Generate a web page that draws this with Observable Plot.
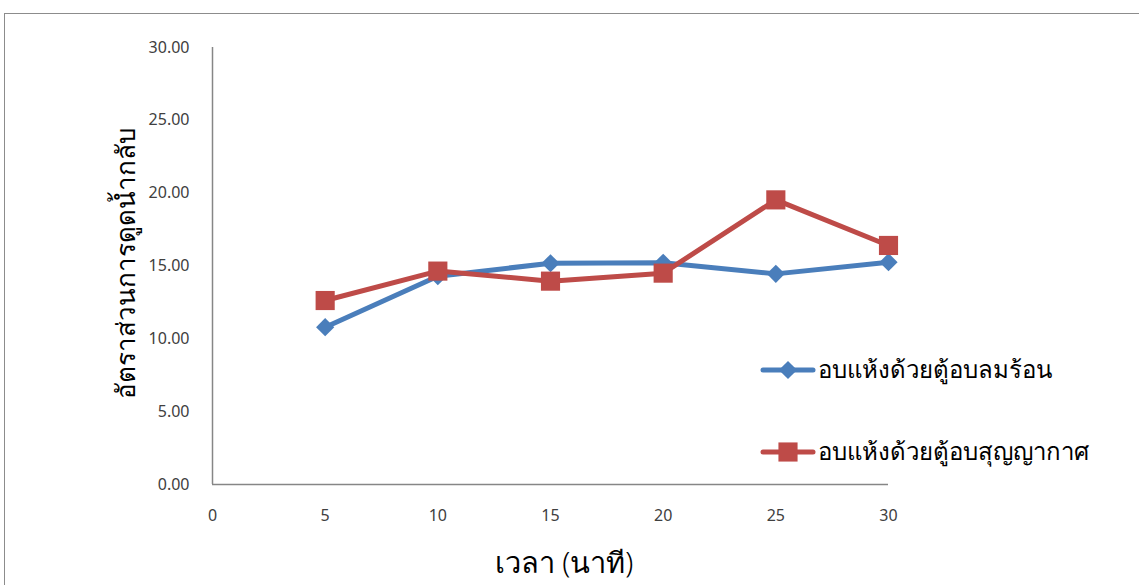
<!DOCTYPE html>
<html>
<head>
<meta charset="utf-8">
<script src="https://cdn.jsdelivr.net/npm/d3@7"></script>
<script src="https://cdn.jsdelivr.net/npm/@observablehq/plot@0.6"></script>
<style>
  html, body { margin: 0; padding: 0; background: #fff; }
  #wrap { position: relative; width: 1139px; height: 585px; overflow: hidden; font-family: "Noto Sans", "DejaVu Sans", sans-serif; }
  #frame { position: absolute; left: 4px; top: 13px; width: 1200px; height: 700px; border: 1px solid #8c8c8c; box-sizing: border-box; }
  #chart { position: absolute; left: 0; top: 0; }
  #ylab { position: absolute; left: 125px; top: 263px; transform: translate(-50%, -50%) rotate(-90deg); font-size: 26px; font-weight: 300; color: #000; white-space: nowrap; }
  #xlab { position: absolute; left: 564px; top: 563px; transform: translate(-50%, -50%); font-size: 29px; font-weight: 300; color: #000; white-space: nowrap; }
  #legend { position: absolute; left: 0; top: 0; }
</style>
</head>
<body>
<div id="wrap">
  <div id="frame"></div>
  <div id="chart"></div>
  <div id="ylab">อัตราส่วนการดูดน้ำกลับ</div>
  <div id="xlab">เวลา (นาที)</div>
  <svg id="legend" width="1139" height="585"></svg>
</div>
<script>
const times = [5, 10, 15, 20, 25, 30];
const seriesNames = ["อบแห้งด้วยตู้อบลมร้อน", "อบแห้งด้วยตู้อบสุญญากาศ"];
const hotAir = [10.80, 14.30, 15.19, 15.22, 14.46, 15.26];
const vacuum = [12.63, 14.65, 13.96, 14.51, 19.54, 16.41];
const xTicks = [0, 5, 10, 15, 20, 25, 30];
const yTicks = [0, 5, 10, 15, 20, 25, 30];
const colors = ["#4A7EBB", "#BE4B48"];

const data = [];
times.forEach((t, i) => data.push({t, v: hotAir[i], s: seriesNames[0]}));
times.forEach((t, i) => data.push({t, v: vacuum[i], s: seriesNames[1]}));
const d0 = data.filter(d => d.s === seriesNames[0]);
const d1 = data.filter(d => d.s === seriesNames[1]);

const tickFont = "'Noto Sans', 'DejaVu Sans', sans-serif";
const chart = Plot.plot({
  width: 1139,
  height: 585,
  marginLeft: 212,
  marginRight: 251,
  marginTop: 47,
  marginBottom: 101,
  style: { fontFamily: tickFont, background: "transparent" },
  x: { domain: [0, 30] },
  y: { domain: [0, 30] },
  marks: [
    Plot.axisX({ ticks: xTicks, tickSize: 0, tickPadding: 25, label: null, tickFormat: d => String(d), fontSize: 16, fill: "#404040" }),
    Plot.axisY({ ticks: yTicks, tickSize: 0, tickPadding: 23, label: null, tickFormat: d => d.toFixed(2), fontSize: 16, fill: "#404040" }),
    Plot.ruleY([0], { stroke: "#868686", strokeWidth: 1.5 }),
    Plot.ruleX([0], { stroke: "#868686", strokeWidth: 1.5 }),
    Plot.line(d0, { x: "t", y: "v", stroke: colors[0], strokeWidth: 5 }),
    Plot.dot(d0, { x: "t", y: "v", symbol: "diamond2", r: 8.2, fill: colors[0], stroke: "none" }),
    Plot.line(d1, { x: "t", y: "v", stroke: colors[1], strokeWidth: 5 }),
    Plot.dot(d1, { x: "t", y: "v", symbol: "square", r: 10.8, fill: colors[1], stroke: "none" })
  ]
});
document.getElementById("chart").appendChild(chart);

// Legend
const leg = d3.select("#legend");
const items = [
  { name: seriesNames[0], color: colors[0], sym: d3.symbolDiamond2, size: Math.PI * 8.2 * 8.2, y: 370 },
  { name: seriesNames[1], color: colors[1], sym: d3.symbolSquare, size: Math.PI * 10.8 * 10.8, y: 452 }
];
items.forEach(it => {
  const g = leg.append("g");
  g.append("line").attr("x1", 763).attr("x2", 813).attr("y1", it.y).attr("y2", it.y)
    .attr("stroke", it.color).attr("stroke-width", 5).attr("stroke-linecap", "round");
  g.append("path").attr("d", d3.symbol(it.sym, it.size)()).attr("transform", `translate(788,${it.y})`).attr("fill", it.color);
  g.append("text").attr("x", 818).attr("y", it.y).attr("dy", "0.35em")
    .attr("font-family", "'Noto Sans', 'DejaVu Sans', sans-serif").attr("font-size", 24).attr("font-weight", 300).attr("fill", "#000")
    .text(it.name);
});
</script>
</body>
</html>
